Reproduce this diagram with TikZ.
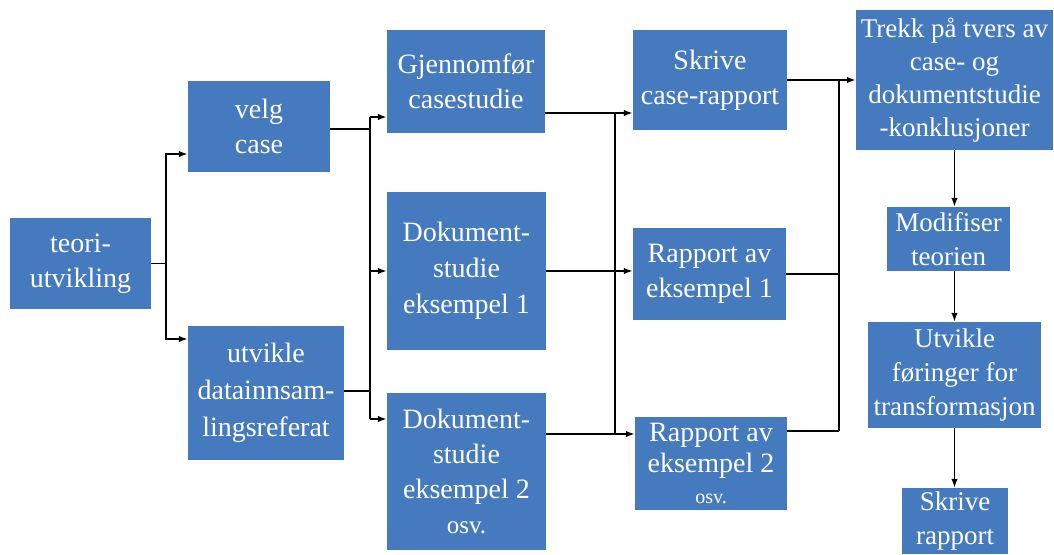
\documentclass[tikz,border=0pt]{standalone}
\usepackage{fontspec}
\setmainfont{Liberation Serif}
\usetikzlibrary{arrows.meta,calc}
\definecolor{boxblue}{RGB}{70,122,190}
\begin{document}
\begin{tikzpicture}[x=1pt,y=-1pt,
  box/.style={fill=boxblue, text=white, inner sep=0pt, align=center,
    font=\fontsize{28pt}{35pt}\selectfont},
  link/.style={line width=1.6pt, black},
  arr/.style={link, -{Latex[length=9pt,width=6.5pt]}}]
\useasboundingbox (0,0) rectangle (1054,554);
% boxes
\node[box, minimum width=141pt, minimum height=91pt] (teori) at (80.5,263.5) {teori-\\utvikling};
\node[box, minimum width=142pt, minimum height=91pt] (velg) at (259,126.5) {velg\\case};
\node[box, minimum width=156pt, minimum height=134pt, font=\fontsize{28pt}{37pt}\selectfont] (utvikle) at (266,393) {utvikle\\datainnsam-\\lingsreferat};
\node[box, minimum width=158pt, minimum height=103pt] (gjen) at (466,81.5) {Gjennomfør\\casestudie};
\node[box, minimum width=159pt, minimum height=158pt, font=\fontsize{28pt}{36pt}\selectfont] (dok1) at (466.5,271) {Dokument-\\studie\\eksempel 1};
\node[box, minimum width=159pt, minimum height=157pt] (dok2) at (466.5,471.5) {Dokument-\\studie\\eksempel 2\\\fontsize{25pt}{35pt}\selectfont osv.};
\node[box, minimum width=154pt, minimum height=100pt] (skrive) at (710,80) {Skrive\\case-rapport};
\node[box, minimum width=153pt, minimum height=92pt] (rap1) at (709.5,274) {Rapport av\\eksempel 1};
\node[box, minimum width=152pt, minimum height=93pt, font=\fontsize{28pt}{31pt}\selectfont] (rap2) at (711,463.5) {Rapport av\\eksempel 2\\\fontsize{20pt}{31pt}\selectfont osv.};
\node[box, minimum width=197pt, minimum height=140pt, font=\fontsize{27pt}{33pt}\selectfont] (trekk) at (954.5,80) {Trekk på tvers av\\case- og\\dokumentstudie\\-konklusjoner};
\node[box, minimum width=123pt, minimum height=64pt, font=\fontsize{27pt}{34pt}\selectfont] (modif) at (948.5,239) {Modifiser\\teorien};
\node[box, minimum width=173pt, minimum height=106pt, font=\fontsize{27pt}{34pt}\selectfont] (utv2) at (954.5,375) {Utvikle\\føringer for\\transformasjon};
\node[box, minimum width=106pt, minimum height=66pt, font=\fontsize{27pt}{34pt}\selectfont] (skrrap) at (955,521) {Skrive\\rapport};
% junction columns
\coordinate (ja) at (166,0);
\coordinate (jb) at (370,0);
\coordinate (jc) at (615,0);
\coordinate (jd) at (839,0);
% anchors
\coordinate (velgin) at ([yshift=-27.5pt]velg.west);
\coordinate (utvin) at ([yshift=54pt]utvikle.west);
\coordinate (velgout) at ([yshift=-2.5pt]velg.east);
\coordinate (utvout) at ([yshift=2pt]utvikle.east);
\coordinate (gjenin) at ([yshift=-35.5pt]gjen.west);
\coordinate (dok2in) at ([yshift=52.5pt]dok2.west);
\coordinate (gjenout) at ([yshift=-31.5pt]gjen.east);
\coordinate (dok2out) at ([yshift=37.5pt]dok2.east);
\coordinate (rap2out) at ([yshift=32.5pt]rap2.east);
% stage 1
\draw[link] (teori.east) -- (ja |- teori.east);
\draw[arr] (ja |- teori.east) |- (velgin);
\draw[arr] (ja |- teori.east) |- (utvin);
% stage 2
\draw[link] (velgout) -- (jb |- velgout);
\draw[link] (utvout) -- (jb |- utvout);
\draw[link] (jb |- gjenin) -- (jb |- dok2in);
\draw[arr] (jb |- gjenin) -- (gjenin);
\draw[arr] (jb |- dok1.west) -- (dok1.west);
\draw[arr] (jb |- dok2in) -- (dok2in);
% stage 3
\draw[arr] (gjenout) -- (gjenout -| skrive.west);
\draw[arr] (dok1.east) -- (dok1.east -| rap1.west);
\draw[arr] (dok2out) -- (dok2out -| rap2.west);
\draw[link] (jc |- gjenout) -- (jc |- dok2out);
% stage 4
\draw[arr] (skrive.east) -- (skrive.east -| trekk.west);
\draw[link] (rap1.east) -- (jd |- rap1.east);
\draw[link] (rap2out) -- (jd |- rap2out);
\draw[link] (jd |- skrive.east) -- (jd |- rap2out);
% right column
\draw[arr] (trekk.south) -- (trekk.south |- modif.north);
\draw[arr] (modif.south -| trekk.south) -- (trekk.south |- utv2.north);
\draw[arr] (utv2.south -| trekk.south) -- (trekk.south |- skrrap.north);
\end{tikzpicture}
\end{document}
